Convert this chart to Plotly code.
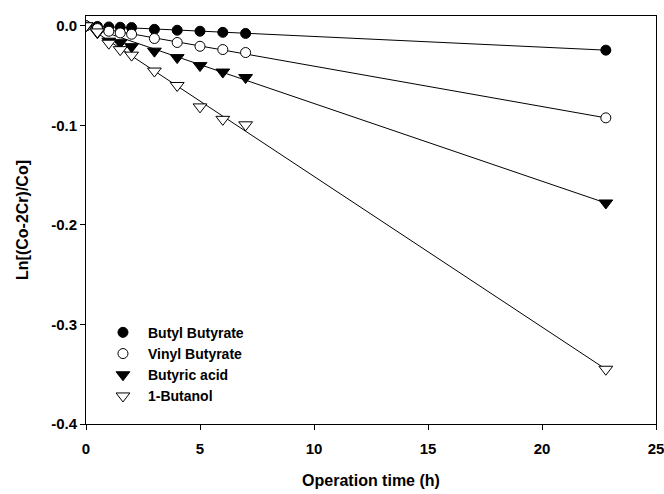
import plotly.graph_objects as go

time_h = [0, 0.5, 1, 1.5, 2, 3, 4, 5, 6, 7, 22.8]
butyl_butyrate = [0, -0.0007, -0.0012, -0.0015, -0.0018, -0.0036, -0.0045, -0.0055, -0.0066, -0.0077, -0.0245]
vinyl_butyrate = [0, -0.0028, -0.0055, -0.0072, -0.0085, -0.0128, -0.0168, -0.0206, -0.0239, -0.0269, -0.0925]
butyric_acid = [0, -0.0070, -0.0155, -0.0170, -0.0210, -0.0255, -0.0320, -0.0400, -0.0465, -0.0520, -0.1780]
butanol = [0, -0.0062, -0.0175, -0.0240, -0.0295, -0.0455, -0.0600, -0.0815, -0.0940, -0.0995, -0.3450]

series_names = ["Butyl Butyrate", "Vinyl Butyrate", "Butyric acid", "1-Butanol"]
series_values = [butyl_butyrate, vinyl_butyrate, butyric_acid, butanol]

x_tickvals = [0, 5, 10, 15, 20, 25]
x_ticktext = ["<b>0</b>", "<b>5</b>", "<b>10</b>", "<b>15</b>", "<b>20</b>", "<b>25</b>"]
y_tickvals = [0.0, -0.1, -0.2, -0.3, -0.4]
y_ticktext = ["<b>0.0</b>", "<b>-0.1</b>", "<b>-0.2</b>", "<b>-0.3</b>", "<b>-0.4</b>"]

styles = [
    dict(symbol="circle", size=10, color="black"),
    dict(symbol="circle", size=10, color="white"),
    dict(symbol="triangle-down", size=12, color="black"),
    dict(symbol="triangle-down", size=12, color="white"),
]

FONT = "Liberation Sans, Arial, sans-serif"

fig = go.Figure()

# straight trend lines (first to last point), drawn beneath markers
for name, vals in zip(series_names, series_values):
    fig.add_trace(go.Scatter(
        x=[time_h[0], time_h[-1]], y=[vals[0], vals[-1]],
        mode="lines", line=dict(color="black", width=1),
        showlegend=False, hoverinfo="skip"))

for i, (name, vals) in enumerate(zip(series_names, series_values)):
    st = styles[i]
    fig.add_trace(go.Scatter(
        x=time_h, y=vals, mode="markers", name="<b>" + name + "</b>",
        marker=dict(symbol=st["symbol"], size=st["size"], color=st["color"],
                    line=dict(color="black", width=1))))

fig.update_layout(
    width=664, height=494,
    margin=dict(l=86, r=8, t=16, b=70),
    paper_bgcolor="white", plot_bgcolor="white",
    font=dict(family=FONT, size=14, color="black"),
    legend=dict(x=0.021, y=0.03, xanchor="left", yanchor="bottom",
                bgcolor="rgba(0,0,0,0)", borderwidth=0,
                font=dict(family=FONT, size=14, color="black"),
                itemwidth=40),
    xaxis=dict(range=[0, 25], tickvals=x_tickvals, ticktext=x_ticktext,
               showgrid=False, zeroline=False, automargin=False,
               showline=True, linecolor="black", linewidth=1, mirror=True,
               ticks="outside", ticklen=5, tickcolor="black", tickwidth=1,
               ticklabelstandoff=6, ticklabeloverflow="allow",
               tickfont=dict(family=FONT, size=15),
               title=dict(text="<b>Operation time (h)</b>",
                          font=dict(family=FONT, size=16),
                          standoff=18)),
    yaxis=dict(range=[-0.4, 0.0098], tickvals=y_tickvals, ticktext=y_ticktext,
               showgrid=False, zeroline=False, automargin=False,
               showline=True, linecolor="black", linewidth=1, mirror=True,
               ticks="outside", ticklen=5, tickcolor="black", tickwidth=1,
               ticklabeloverflow="allow",
               tickfont=dict(family=FONT, size=15),
               title=dict(text="<b>Ln[(Co-2Cr)/Co]</b>",
                          font=dict(family=FONT, size=16),
                          standoff=18)),
)

fig.write_html("out.html", config={"displayModeBar": False},
               post_script="document.body.style.margin='0';")
